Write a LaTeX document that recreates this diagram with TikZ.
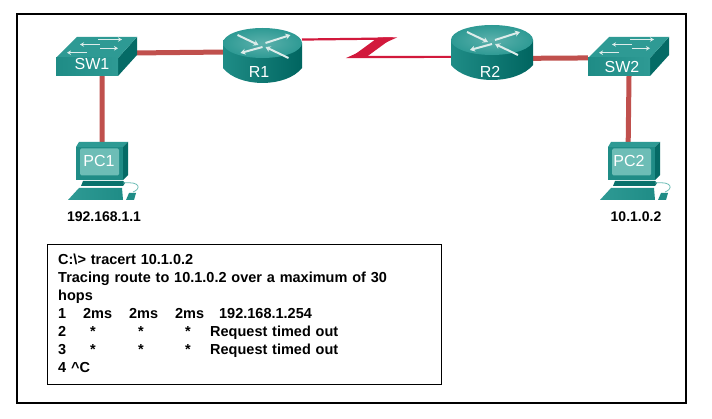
\documentclass[tikz,border=0pt]{standalone}
\usepackage{fontspec}
\setmainfont{Liberation Sans}
\usetikzlibrary{arrows.meta,calc}
\definecolor{lanred}{HTML}{C0504D}
\definecolor{wanred}{HTML}{D2193C}
\definecolor{tealA}{HTML}{3FA39D}
\definecolor{tealB}{HTML}{1F8C86}
\definecolor{tealC}{HTML}{006560}
\definecolor{tealD}{HTML}{2E9A94}
\definecolor{tealS}{HTML}{6DBDB6}
\definecolor{iconw}{HTML}{DDECEA}
\tikzset{
  frame/.style={draw=black,line width=2pt,fill=white},
  consolebox/.style={draw=black,line width=1pt,fill=white},
  devbox/.style={inner sep=0pt,outer sep=0pt},
  lanlink/.style={draw=lanred,line width=5pt},
  wanlink/.style={draw=wanred,line width=2.2pt},
  devlabel/.style={text=white,font=\fontsize{16}{16}\selectfont,inner sep=0pt},
  iplabel/.style={text=black,font=\bfseries\fontsize{14}{14}\selectfont,inner sep=0pt},
  consoletext/.style={text=black,font=\bfseries\fontsize{14.5}{18}\selectfont,inner sep=0pt,align=left,text width=375pt},
  iconarrow/.style={draw=iconw,line width=2pt,-{Stealth[length=5pt,width=6pt]}},
  swarrow/.style={draw=iconw,line width=1.3pt,-{Stealth[length=4pt,width=4.5pt]}}
}
\newcommand\atx[2]{\leavevmode\rlap{\hspace{#1}#2}}
\newcommand\routericon[4]{% cx, top-ellipse cy, rx, ry
  \begin{scope}[shift={(#1,#2)}]
    \shade[left color=tealB,middle color=tealA,right color=tealC]
      (-#3,0) -- (-#3,-25) .. controls (-#3*0.6,-25-#4*1.33) and (#3*0.6,-25-#4*1.33) .. (#3,-25) -- (#3,0) -- cycle;
    \shade[inner color=tealA!85!white,outer color=tealD] (0,0) ellipse [x radius=#3,y radius=#4];
    \draw[iconarrow] (-25,8) -- (-4,-2);
    \draw[iconarrow] (3,0) -- (28,8);
    \draw[iconarrow] (0,-4) -- (-22,-10);
    \draw[iconarrow] (26,-15) -- (3,-4);
  \end{scope}}
\newcommand\switchicon[2]{%
  \begin{scope}[shift={(#1,#2)}]
    \fill[tealC!85!tealB] (62,18) -- (81,39) -- (81,21) -- (62,0) -- cycle;
    \fill[tealD] (0,18) -- (62,18) -- (81,39) -- (21,39) -- cycle;
    \shade[left color=tealB,right color=tealD] (0,0) rectangle (62,18);
    \draw[swarrow] (42,36.5) -- (66,36.5);
    \draw[swarrow] (44,31.5) -- (24,31.5);
    \draw[swarrow] (44,27.7) -- (62,27.7);
    \draw[swarrow] (31,23.3) -- (11,23.3);
  \end{scope}}
\newcommand\pcicon[2]{%
  \begin{scope}[shift={(#1,#2)}]
    \fill[tealD] (0,-5) -- (3,0) -- (52,0) -- (47,-5) -- cycle;
    \fill[tealC!85!tealB] (47,-5) -- (52,0) -- (52,-33) -- (47,-38) -- cycle;
    \fill[tealB] (0,-5) rectangle (47,-38);
    \fill[tealS,rounded corners=1.5pt] (4,-6.5) rectangle (43,-33.5);
    \fill[tealC!70!tealB] (7,-39) -- (47,-39) -- (49,-41) -- (47,-44) -- (5,-44) -- cycle;
    \shade[left color=tealD,right color=tealB] (3,-46) -- (46,-46) -- (47,-58) -- (-8,-58) -- cycle;
    \fill[tealB] (53,-51) -- (60,-51) -- (58,-58) -- (50,-58) -- cycle;
    \draw[tealS,line width=0.8pt] (47,-41) .. controls (65,-39) and (65,-47) .. (57,-50);
  \end{scope}}
\begin{document}
\begin{tikzpicture}[x=1pt,y=1pt]
  \useasboundingbox (0,0) rectangle (712,418);
  \fill[white] (0,0) rectangle (712,418);
  \draw[frame] (17,15) rectangle (686,404);
  \draw[consolebox] (47,34) rectangle (441,173);
  % device extents
  \node[devbox,minimum width=81pt,minimum height=39pt] (sw1) at (96.5,361.5) {};
  \node[devbox,minimum width=79pt,minimum height=55pt] (r1) at (262.5,362.5) {};
  \node[devbox,minimum width=82pt,minimum height=58pt] (r2) at (492,364) {};
  \node[devbox,minimum width=82pt,minimum height=39pt] (sw2) at (629,361.5) {};
  \node[devbox,minimum width=52pt,minimum height=38pt] (pc1) at (102,257) {};
  \node[devbox,minimum width=52pt,minimum height=38pt] (pc2) at (634,257) {};
  \coordinate (z1) at (392,379.5);
  \coordinate (z2) at (351,361);
  % links
  \draw[lanlink] (sw1.5) -- (r1.175);
  \draw[lanlink] (sw1.-74) -- (pc1.north);
  \draw[lanlink] (r2.-6) -- (sw2.182.5);
  \draw[lanlink] (sw2.south) -- (pc2.107.5);
  \draw[wanlink] (r1.22.7) -- (z1) -- (z2) -- (r2.184);
  \fill[wanred] ($(z1)+(1,1)$) -- ++(-15,0) -- ($(z2)+(-1,-1)$) -- ++(15,0) -- cycle;
  % icons
  \routericon{262.5}{375}{39.5}{15}
  \routericon{492}{378}{41}{15}
  \switchicon{56}{342}
  \switchicon{588}{342}
  \pcicon{76}{276}
  \pcicon{608}{276}
  % labels
  \node[devlabel] (sw1l) at (92,354.5) {SW1};
  \node[devlabel] (r1l) at (259,346) {R1};
  \node[devlabel] (r2l) at (490,346) {R2};
  \node[devlabel] (sw2l) at (622,351.5) {SW2};
  \node[devlabel] (pc1l) at (99,257) {PC1};
  \node[devlabel] (pc2l) at (629,257) {PC2};
  \node[iplabel] (ip1) at (104,201) {192.168.1.1};
  \node[iplabel] (ip2) at (636,201) {10.1.0.2};
  \node[consoletext,anchor=north west] (console) at (58,164.5) {%
    C:\textbackslash> tracert 10.1.0.2\\
    Tracing route to 10.1.0.2 over a maximum of 30\\
    hops\\
    \atx{0pt}{1}\atx{25pt}{2ms}\atx{71pt}{2ms}\atx{117pt}{2ms}\atx{161pt}{192.168.1.254}\\
    \atx{0pt}{2}\atx{32pt}{*}\atx{80pt}{*}\atx{127pt}{*}\atx{152pt}{Request timed out}\\
    \atx{0pt}{3}\atx{32pt}{*}\atx{80pt}{*}\atx{127pt}{*}\atx{152pt}{Request timed out}\\
    4 \textasciicircum C};
\end{tikzpicture}
\end{document}
